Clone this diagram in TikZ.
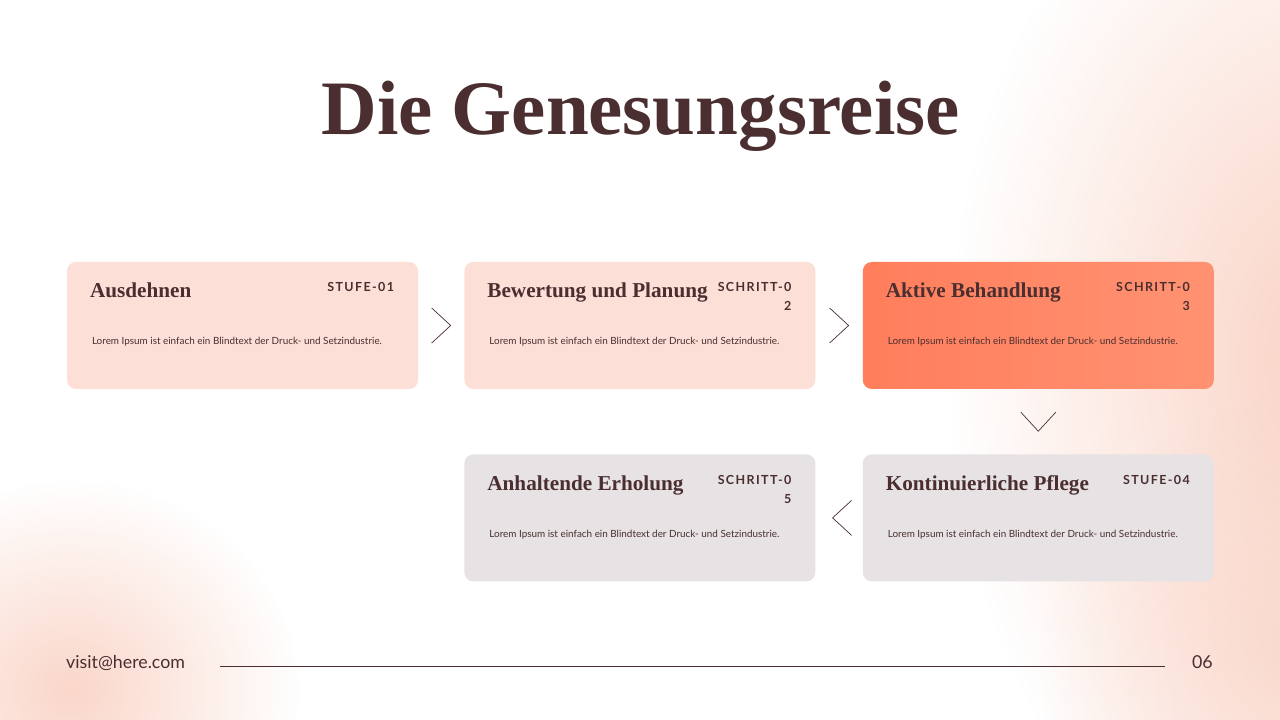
\documentclass[tikz,border=0pt]{standalone}
\usepackage{fontspec}
\setmainfont{Lato}
\newfontfamily\titlefont{Liberation Serif}
\newfontfamily\tagfont[LetterSpace=11]{Lato}
\usetikzlibrary{positioning,calc,fadings}

\definecolor{ink}{HTML}{4A2E30}
\definecolor{blush}{HTML}{FCDFD6}
\definecolor{coralA}{HTML}{FF7E5C}
\definecolor{coralB}{HTML}{FF9272}
\definecolor{mist}{HTML}{E7E2E3}
\definecolor{glowpink}{HTML}{FAD2C4}

\tikzfading[name=glow, inner color=transparent!0, outer color=transparent!100]

\newcommand{\loremline}{Lorem Ipsum ist einfach ein Blindtext der Druck- und Setzindustrie.}

\tikzset{
  card/.style={rounded corners=9, minimum width=351pt, minimum height=127pt, inner sep=0pt},
  cardtitle/.style={anchor=base west, inner sep=0pt, text=ink, font=\titlefont\bfseries\fontsize{21.2}{24}\selectfont},
  cardtag/.style={anchor=base east, inner sep=0pt, text=ink, font=\tagfont\bfseries\fontsize{12.5}{15}\selectfont},
  cardtext/.style={anchor=base west, inner sep=0pt, text=ink, font=\fontsize{9.9}{12}\selectfont},
  chevron/.style={draw=ink, line width=0.7pt}
}

\begin{document}
\begin{tikzpicture}[x=1pt,y=1pt]
	% Fondo
	\fill[white] (0,0) rectangle (1280,720);
	\useasboundingbox (0,0) rectangle (1280,720);
	\fill[glowpink, path fading=glow] (1330,360) ellipse (380 and 560);
	\fill[glowpink, path fading=glow, opacity=.7] (1300,60) circle (260);
	\fill[glowpink, path fading=glow, opacity=.9] (70,30) ellipse (230 and 210);

	% Titulo
	\node[anchor=base, inner sep=0pt, text=ink, font=\titlefont\bfseries\fontsize{77}{80}\selectfont] (title) at (640.5,585) {Die Genesungsreise};

	% Tarjetas
	\node[card, fill=blush] (b1) at (242.5,394.5) {};
	\node[card, fill=blush, right=46pt of b1] (b2) {};
	\node[card, left color=coralA, right color=coralB, right=47pt of b2] (b3) {};
	\node[card, fill=mist, below=65pt of b3] (b4) {};
	\node[card, fill=mist, left=47pt of b4] (b5) {};

	% Textos de las tarjetas
	\foreach \cid/\chead/\ctag/\cnum in {
	    b1/Ausdehnen/STUFE-01/,
	    b2/Bewertung und Planung/SCHRITT-0/2,
	    b3/Aktive Behandlung/SCHRITT-0/3,
	    b4/Kontinuierliche Pflege/STUFE-04/,
	    b5/Anhaltende Erholung/SCHRITT-0/5
	} {
	    \node[cardtitle] (\cid h) at ([shift={(23,-36)}]\cid.north west) {\chead};
	    \node[cardtext] (\cid l) at ([shift={(25,-83)}]\cid.north west) {\loremline};
	    \node[cardtag] (\cid s) at ([shift={(-24,-30)}]\cid.north east) {\ctag};
	    \node[cardtag] (\cid n) at ([shift={(-24,-49)}]\cid.north east) {\cnum};
	}

	% Flechas
	\draw[chevron] ($(b1.east)!.5!(b2.west)$) ++(-9.5,17.5) -- ++(19,-17.5) -- ++(-19,-17.5);
	\draw[chevron] ($(b2.east)!.5!(b3.west)$) ++(-9.5,17.5) -- ++(19,-17.5) -- ++(-19,-17.5);
	\draw[chevron] ($(b3.south)!.5!(b4.north)$) ++(-17.5,9.5) -- ++(17.5,-19) -- ++(17.5,19);
	\draw[chevron] ($(b5.east)!.5!(b4.west)$) ++(12.5,17.5) -- ++(-19,-17.5) -- ++(19,-17.5);

	% Pie de pagina
	\node[anchor=base west, inner sep=0pt, text=ink, font=\fontsize{17.8}{20}\selectfont] (mail) at (66,51) {visit@here.com};
	\node[anchor=base east, inner sep=0pt, text=ink, font=\fontsize{17.8}{20}\selectfont] (page) at (1213,51) {06};
	\coordinate (rule-a) at (220,53);
	\coordinate (rule-b) at (1165,53);
	\draw[ink, line width=1pt] (rule-a) -- (rule-b);
\end{tikzpicture}
\end{document}
